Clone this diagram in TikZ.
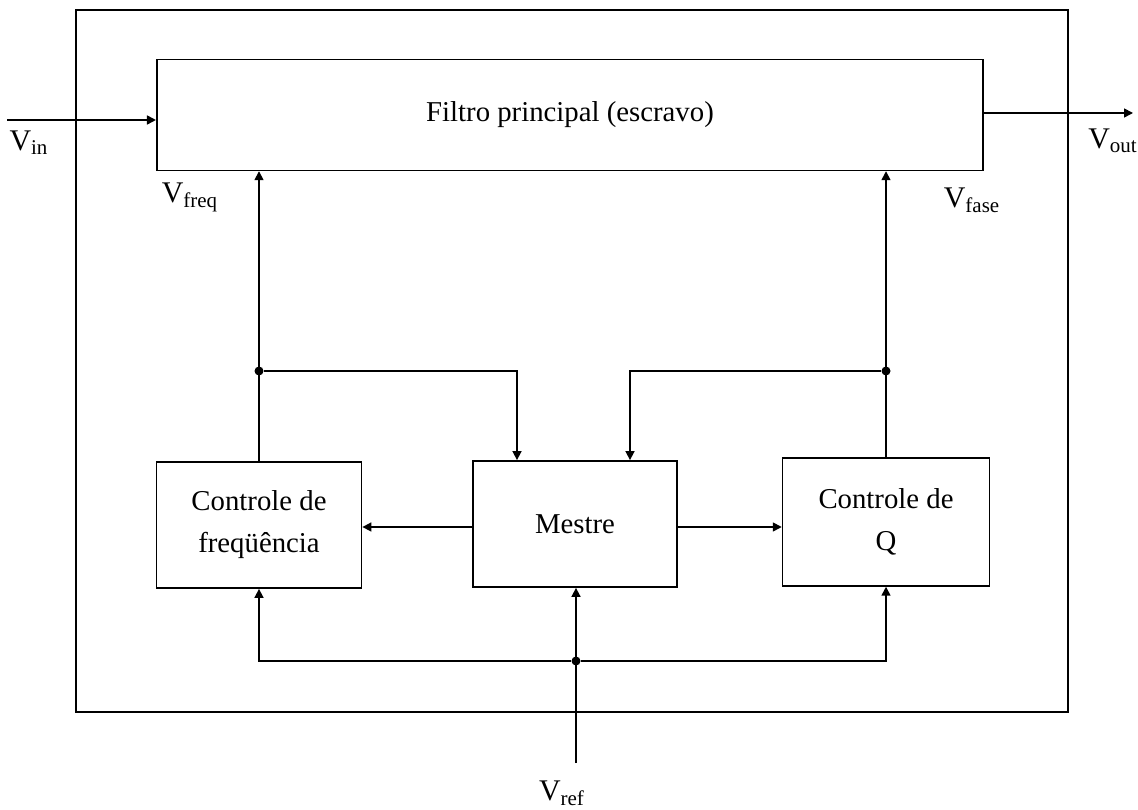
\documentclass[tikz,border=0pt]{standalone}
\usepackage{fontspec}
\setmainfont{Liberation Serif}
\usetikzlibrary{arrows.meta}

\begin{document}
\begin{tikzpicture}[x=0.0176cm, y=-0.0176cm, line width=0.8pt,
    blk/.style={draw, align=center, inner sep=0pt, font=\fontsize{14.4}{21}\selectfont},
    sig/.style={-{Triangle[length=4.5pt,width=4.5pt]}},
    lbl/.style={font=\fontsize{15}{18}\selectfont, inner sep=0pt},
    jn/.style={fill, circle, inner sep=0pt, minimum size=4.5pt}]
  \useasboundingbox (0,0) rectangle (1138,810);
  \node[draw, minimum width=17.46cm, minimum height=12.36cm] (frame) at (572,361) {};
  \node[blk, minimum width=14.54cm, minimum height=1.95cm] (main) at (570,115) {Filtro principal (escravo)};
  \node[blk, minimum width=3.61cm, minimum height=2.22cm] (cf) at (259,525) {Controle de\\freqüência};
  \node[blk, minimum width=3.59cm, minimum height=2.22cm] (ms) at (575,524) {Mestre};
  \node[blk, minimum width=3.64cm, minimum height=2.25cm] (cq) at (886,522) {Controle de\\Q};

  \coordinate (inpt) at (7,120);
  \coordinate (outpt) at (1133,113);
  \coordinate (refpt) at (576,763);
  \coordinate (upper) at (0,371);
  \coordinate (mid) at (0,527);
  \coordinate (lower) at (0,661);
  \coordinate (ma) at (517,371);
  \coordinate (mb) at (630,371);
  \node[jn] (jl) at (cf.north |- upper) {};
  \node[jn] (jr) at (cq.north |- upper) {};
  \node[jn] (jb) at (refpt |- lower) {};

  \draw[sig] (inpt) -- (main.west |- inpt);
  \draw[sig] (main.east |- outpt) -- (outpt);
  \draw[sig] (cf.north) -- (main.south -| cf.north);
  \draw[sig] (cq.north) -- (main.south -| cq.north);
  \draw[sig] (jl) -- (ma) -- (ms.north -| ma);
  \draw[sig] (jr) -- (mb) -- (ms.north -| mb);
  \draw[sig] (ms.west |- mid) -- (cf.east |- mid);
  \draw[sig] (ms.east |- mid) -- (cq.west |- mid);
  \draw[sig] (refpt) -- (ms.south -| refpt);
  \draw[sig] (jb) -| (cf.south);
  \draw[sig] (jb) -| (cq.south);

  \node[lbl] (vin) at (29,143) {V\textsubscript{in}};
  \node[lbl] (vfreq) at (190,197) {V\textsubscript{freq}};
  \node[lbl] (vfase) at (972,200) {V\textsubscript{fase}};
  \node[lbl] (vout) at (1113,141) {V\textsubscript{out}};
  \node[lbl] (vref) at (562,793) {V\textsubscript{ref}};
\end{tikzpicture}
\end{document}
